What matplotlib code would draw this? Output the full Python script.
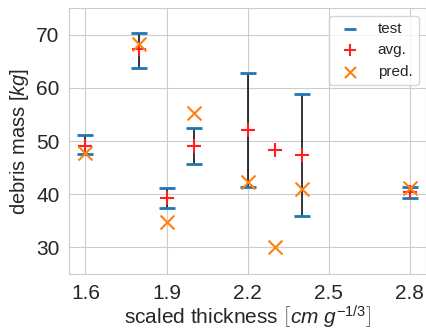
#Scatter of debris mass vs scaled thickness: test range, average and prediction
import numpy as np
import matplotlib
matplotlib.use('Agg')
import matplotlib.pyplot as plt
import seaborn as sns

#data
thickness = [1.6, 1.8, 1.9, 2.0, 2.2, 2.3, 2.4, 2.8]
test_min = [47.6, 63.7, 37.4, 45.6, 41.4, None, 36.0, 39.2]
test_max = [51.1, 70.3, 41.1, 52.5, 62.7, None, 58.9, 41.4]
avg = [49.0, 67.2, 39.2, 49.0, 52.0, 48.4, 47.4, 40.4]
pred = [47.8, 68.3, 34.8, 55.3, 42.3, 30.1, 41.0, 41.1]

sns.set_style('whitegrid')
plt.rcParams['font.family'] = ['Liberation Sans', 'DejaVu Sans']
plt.rcParams['mathtext.fontset'] = 'custom'
plt.rcParams['mathtext.rm'] = 'Liberation Sans'
plt.rcParams['mathtext.it'] = 'Liberation Sans:italic'

fig = plt.figure(figsize=(4.27, 3.33), dpi=100)
ax = fig.add_axes([0.162, 0.177, 0.836, 0.799])

#test values: min and max with a line between
tx = [t for t, lo in zip(thickness, test_min) if lo is not None]
lo = [v for v in test_min if v is not None]
hi = [v for v in test_max if v is not None]
ax.vlines(tx, lo, hi, color='k', linewidth=1.3, alpha=0.85, zorder=2)
ax.scatter(tx + tx, lo + hi, marker='_', color='#1f77b4', s=130, linewidths=2,
           label='test', zorder=3)
ax.scatter(thickness, avg, marker='+', color='#ff1f1f', s=110, linewidths=1.5,
           label='avg.', zorder=4)
ax.scatter(thickness, pred, marker='x', color='#ff7f0e', s=100, linewidths=1.5,
           label='pred.', zorder=5)

ax.set_xticks(np.arange(1.6, 2.81, 0.3))
ax.set_yticks(np.arange(30, 71, 10))
ax.set_ylim(25, 75)
ax.tick_params(labelsize=15)
ax.set_xlabel(r'scaled thickness $\left[cm\ g^{-1/3}\right]$', fontsize=15, labelpad=1)
ax.set_ylabel(r'debris mass [$kg$]', fontsize=14.5)
ax.legend(loc='upper right', fontsize=11, markerscale=0.8)

fig.savefig('out.png', dpi=100)
